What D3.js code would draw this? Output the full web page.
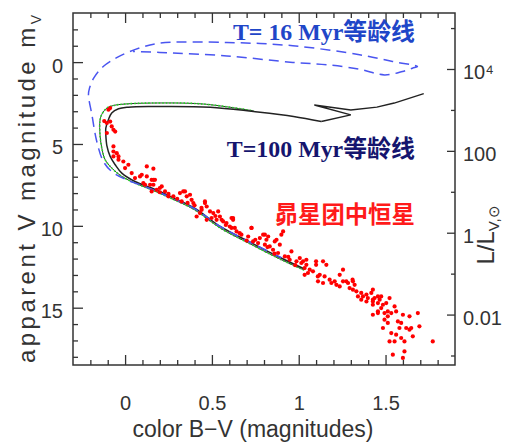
<!DOCTYPE html>
<html><head><meta charset="utf-8">
<script src="https://cdn.jsdelivr.net/npm/d3@7"></script>
<style>
html,body{margin:0;padding:0;background:#fff;}
svg{display:block;}
.tick text{font-family:"Liberation Sans Narrow","Liberation Sans",Arial,sans-serif;font-size:20px;fill:#333;}
</style></head>
<body>
<svg id="c" width="509" height="446"></svg>
<script>
// ---- data ----
const xMajor = [0, 0.5, 1, 1.5];
const yMajor = [0, 5, 10, 15];
const lumMajor = [1e4, 100, 1, 0.01];
const lumMinor = [1e5, 1e3, 10, 0.1, 0.001];
const distModulus = 10.42; // m where L/L_V,sun = 1

// T = 16 Myr isochrone (B-V, mV)
const iso16 = [
 [0.90,11.95],[0.72,11.0],[0.55,10.05],[0.40,8.95],[0.26,8.25],[0.12,7.62],[0.0,7.15],
 [-0.077,6.68],[-0.125,6.07],[-0.163,4.85],[-0.191,3.22],[-0.211,2.0],[-0.205,1.59],
 [-0.18,0.96],[-0.126,0.27],[-0.04,-0.32],[0.086,-0.87],[0.20,-1.16],[0.586,-1.2],
 [0.966,-1.0],[1.35,-0.45],[1.54,-0.04],[1.684,0.27],[1.655,0.37],[1.598,0.57],
 [1.494,0.78],[1.35,0.43],[1.16,0.16],[0.966,0.02],[0.586,-0.38],[0.2,-0.59],[0.046,-0.65]
];
// T = 100 Myr isochrone, inner black track
const iso100 = [
 [1.03,12.62],[0.89,11.92],[0.72,11.0],[0.55,10.05],[0.40,8.92],[0.26,8.2],[0.153,7.69],
 [0.057,7.29],[-0.019,6.78],[-0.057,6.27],[-0.086,5.76],[-0.105,5.1],[-0.111,4.44],
 [-0.111,4.03],[-0.096,3.52],[-0.077,3.11],[-0.038,2.85],[0.019,2.75],[0.153,2.71],
 [0.49,2.75],[0.74,3.02],[0.97,3.32],[1.13,3.63]
];
const iso100Loop = [
 [1.13,3.63],[1.30,3.22],[1.09,2.62],[1.30,2.92],[1.45,2.75],[1.55,2.5],[1.72,1.92]
];
// T = 100 Myr, outer (green dotted) track
const iso100Outer = [
 [1.03,12.7],[0.89,12.02],[0.72,11.1],[0.55,10.15],[0.40,9.02],[0.26,8.3],[0.153,7.8],
 [0.057,7.39],[-0.019,6.98],[-0.077,6.47],[-0.115,5.96],[-0.134,5.25],[-0.144,4.5],
 [-0.144,3.52],[-0.13,3.11],[-0.105,2.81],[-0.067,2.65],[0.0,2.56],[0.153,2.5],
 [0.45,2.56],[0.74,2.98]
];
// Pleiades stars (B-V, mV)
const pleiades = [
 [-0.096,2.91],[-0.086,2.81],[-0.12,3.6],[-0.105,3.72],[-0.086,3.63],[-0.077,3.93],[-0.067,4.13],[-0.057,4.24],[-0.105,4.33],
 [-0.067,5.15],[-0.067,5.46],[-0.048,5.56],[-0.038,5.76],[-0.067,5.76],[-0.038,5.96],[-0.01,6.07],[0.019,6.27],[0.0,6.47],
 [0.125,6.37],[0.163,6.51],[0.038,6.78],[0.086,6.98],[0.125,6.98],[0.057,7.08],[0.172,7.19],[0.105,7.39],[0.144,7.49],
 [0.211,7.59],[0.182,7.8],[0.23,7.9],[0.153,7.9],
 [0.096,6.88],[0.153,7.19],[0.163,7.49],[0.115,7.49],[0.2,7.69],[0.249,8.2],[0.278,8.2],[0.316,8.0],[0.345,7.9],[0.355,8.2],
 [0.383,8.41],[0.393,8.61],[0.326,8.51],[0.46,8.61],[0.47,8.82],[0.441,9.02],[0.489,9.12],[0.508,9.22],[0.536,9.12],
 [0.546,9.43],[0.527,9.63],[0.498,9.52],[0.565,9.73],[0.622,9.63],[0.603,10.04],[0.632,10.13],[0.47,9.63],[0.431,9.22],[0.412,9.43],
 [0.556,9.63],[0.584,9.83],[0.622,9.52],[0.613,10.13],[0.642,10.34],[0.67,10.54],[0.709,10.65],[0.728,10.13],[0.737,10.95],
 [0.766,11.05],[0.795,10.54],[0.805,11.15],[0.824,10.65],[0.833,11.26],[0.862,10.95],[0.891,11.15],[0.9,10.54],[0.852,11.46],
 [0.881,11.66],[0.92,11.87],[0.948,12.07],[0.958,11.56],[0.987,12.17],[1.015,12.27],[1.006,11.97],[1.034,12.58],[1.053,12.88],
 [1.044,12.07],[1.1,12.17],[1.11,13.09],[1.063,12.68],[0.776,10.75],[0.814,10.85],
 [0.163,7.19],[0.335,7.9],[0.374,8.1],[0.46,8.51],[0.613,9.52],[0.728,10.13],[0.805,10.54],[0.91,10.34],[0.872,10.85],
 [0.30,8.35],[0.36,8.6],[0.44,8.9],[0.52,9.4],[0.58,9.95],[0.66,10.45],[0.70,10.9],[0.75,10.85],[0.82,11.3],[0.86,11.7],
 [0.94,11.9],[0.98,12.4],[0.20,7.95],[0.25,8.05],[0.40,8.75],
 [1.025,12.17],[1.044,12.38],[1.034,12.99],[1.082,12.78],[1.1,12.38],[1.14,12.17],[1.159,12.38],[1.121,12.99],[1.111,13.39],
 [1.14,13.49],[1.149,13.09],[1.178,13.29],[1.188,13.49],[1.207,13.39],[1.217,13.6],[1.236,12.99],[1.255,12.68],[1.255,13.39],
 [1.236,13.7],[1.274,13.39],[1.284,13.49],[1.312,13.39],[1.322,13.6],[1.293,13.8],[1.312,13.9],[1.332,14.0],[1.36,14.1],
 [1.37,14.31],[1.39,14.2],[1.398,14.41],[1.418,14.1],[1.427,14.51],[1.341,14.31],[1.36,14.51],[1.39,14.62],[1.456,14.31],
 [1.427,14.82],[1.427,15.43],[1.456,15.23],[1.31,13.29],[1.427,13.9],[1.475,14.31],
 [1.437,14.41],[1.466,14.51],[1.427,14.62],[1.456,14.72],[1.485,14.82],[1.504,14.72],[1.523,14.41],[1.475,15.02],[1.456,15.33],
 [1.494,15.33],[1.513,15.23],[1.533,15.33],[1.552,14.92],[1.561,15.23],[1.513,15.53],[1.494,15.73],[1.485,16.24],[1.513,15.93],
 [1.571,15.84],[1.6,15.43],[1.638,15.53],[1.686,15.33],[1.59,15.93],[1.58,16.24],[1.619,16.24],[1.638,16.34],[1.648,16.24],
 [1.695,16.14],[1.533,16.55],[1.561,16.65],[1.523,17.06],[1.552,17.06],[1.59,16.85],[1.609,17.06],[1.657,16.75],[1.772,17.06],
 [1.542,17.87],[1.609,17.67],[1.6,18.07]
];
const labels = [
 {text:"T= 16 Myr等龄线", bv:0.621, m:-1.36, w:182, color:"#1f46c8"},
 {text:"T=100 Myr等龄线", bv:0.586, m:5.78, w:188, color:"#15156e"},
 {text:"昴星团中恒星", bv:0.862, m:9.85, w:140, color:"#ff1a1a"}
];

// ---- chart ----
const svg = d3.select("#c");
const L = 73, R = 455, T = 13, B = 365;
const x = d3.scaleLinear().domain([-0.3, 1.9]).range([L, R]);
const y = d3.scaleLinear().domain([-3, 18.5]).range([T, B]);
const toLum = m => Math.pow(10, -0.4 * (m - distModulus));
const yL = d3.scaleLog().domain([toLum(-3), toLum(18.5)]).range([T, B]);

const xMinor = d3.range(-2, 19).map(d => d / 10).filter(d => !xMajor.some(v => Math.abs(v - d) < 1e-9));
const yMinor = d3.range(-2, 19).filter(d => !yMajor.includes(d));

function style(g){ g.select(".domain").remove(); g.selectAll("line").attr("stroke","#333").attr("stroke-width",1.3); }

svg.append("g").attr("transform",`translate(0,${B})`)
  .call(d3.axisBottom(x).tickValues(xMajor).tickSize(-10).tickPadding(31).tickFormat(d3.format("~g"))).call(style);
svg.append("g").attr("transform",`translate(0,${B})`)
  .call(d3.axisBottom(x).tickValues(xMinor).tickSize(-5).tickFormat("")).call(style);
svg.append("g").attr("transform",`translate(0,${T})`)
  .call(d3.axisTop(x).tickValues(xMajor).tickSize(-10).tickFormat("")).call(style);
svg.append("g").attr("transform",`translate(0,${T})`)
  .call(d3.axisTop(x).tickValues(xMinor).tickSize(-5).tickFormat("")).call(style);
const yl = svg.append("g").attr("transform",`translate(${L},0)`)
  .call(d3.axisLeft(y).tickValues(yMajor).tickSize(-10).tickPadding(10)).call(style);
yl.selectAll("text").attr("dy","0.5em");
svg.append("g").attr("transform",`translate(${L},0)`)
  .call(d3.axisLeft(y).tickValues(yMinor).tickSize(-5).tickFormat("")).call(style);
const yr = svg.append("g").attr("transform",`translate(${R},0)`)
  .call(d3.axisRight(yL).tickValues(lumMajor).tickSize(-8).tickPadding(8)
    .tickFormat(d => d === 1e4 ? "10\u2074" : d3.format("~g")(d))).call(style);
yr.selectAll("text").attr("dy","0.5em");
svg.append("g").attr("transform",`translate(${R},0)`)
  .call(d3.axisRight(yL).tickValues(lumMinor).tickSize(-4).tickFormat("")).call(style);

svg.append("rect").attr("x",L).attr("y",T).attr("width",R-L).attr("height",B-T)
  .attr("fill","none").attr("stroke","#333").attr("stroke-width",1.5);

const line = d3.line().x(d => x(d[0])).y(d => y(d[1])).curve(d3.curveCatmullRom.alpha(0.5));
const lineLin = d3.line().x(d => x(d[0])).y(d => y(d[1]));

const plot = svg.append("g");
plot.append("path").attr("d", line(iso100Outer)).attr("fill","none").attr("stroke","#333").attr("stroke-width",1);
plot.append("path").attr("d", line(iso100Outer)).attr("fill","none").attr("stroke","#22dd22").attr("stroke-width",1.6).attr("stroke-dasharray","1.5,2");
plot.append("path").attr("d", line(iso100)).attr("fill","none").attr("stroke","#222").attr("stroke-width",1.5);
plot.append("path").attr("d", lineLin(iso100Loop)).attr("fill","none").attr("stroke","#222").attr("stroke-width",1.4);
plot.append("path").attr("d", line(iso16)).attr("fill","none").attr("stroke","#4a55f0").attr("stroke-width",1.5).attr("stroke-dasharray","10,6");

plot.selectAll("circle").data(pleiades).join("circle")
  .attr("cx", d => x(d[0])).attr("cy", d => y(d[1])).attr("r", 2.1).attr("fill", "#ff0000");

svg.selectAll(".lab").data(labels).join("text").attr("class","lab")
  .attr("x", d => x(d.bv)).attr("y", d => y(d.m))
  .attr("text-anchor","start")
  .attr("textLength", d => d.w).attr("lengthAdjust","spacingAndGlyphs")
  .attr("font-family", "'Liberation Serif','Noto Sans CJK SC',serif")
  .attr("font-weight","bold").attr("font-size", 24)
  .attr("fill", d => d.color).text(d => d.text);

// axis titles
svg.append("text").attr("x", 253).attr("y", 437).attr("text-anchor","middle")
  .attr("font-family","'Liberation Sans',Arial,sans-serif").attr("font-size",23).attr("fill","#333")
  .attr("textLength",241).attr("lengthAdjust","spacingAndGlyphs")
  .text("color B\u2212V (magnitudes)");

const yt = svg.append("text").attr("transform","translate(35,189) rotate(-90)").attr("text-anchor","middle")
  .attr("font-family","'Liberation Sans',Arial,sans-serif").attr("font-size",24).attr("fill","#333")
  .attr("textLength",348).attr("lengthAdjust","spacing");
yt.append("tspan").text("apparent V magnitude  m");
yt.append("tspan").attr("font-size",14).attr("dy",6).text("V");

const rt = svg.append("text").attr("transform","translate(494,235) rotate(-90)").attr("text-anchor","middle")
  .attr("font-family","'Liberation Sans',Arial,sans-serif").attr("font-size",24).attr("fill","#333");
rt.append("tspan").text("L/L");
rt.append("tspan").attr("font-size",15).attr("dy",5).text("V,\u2299");
</script>
</body></html>
